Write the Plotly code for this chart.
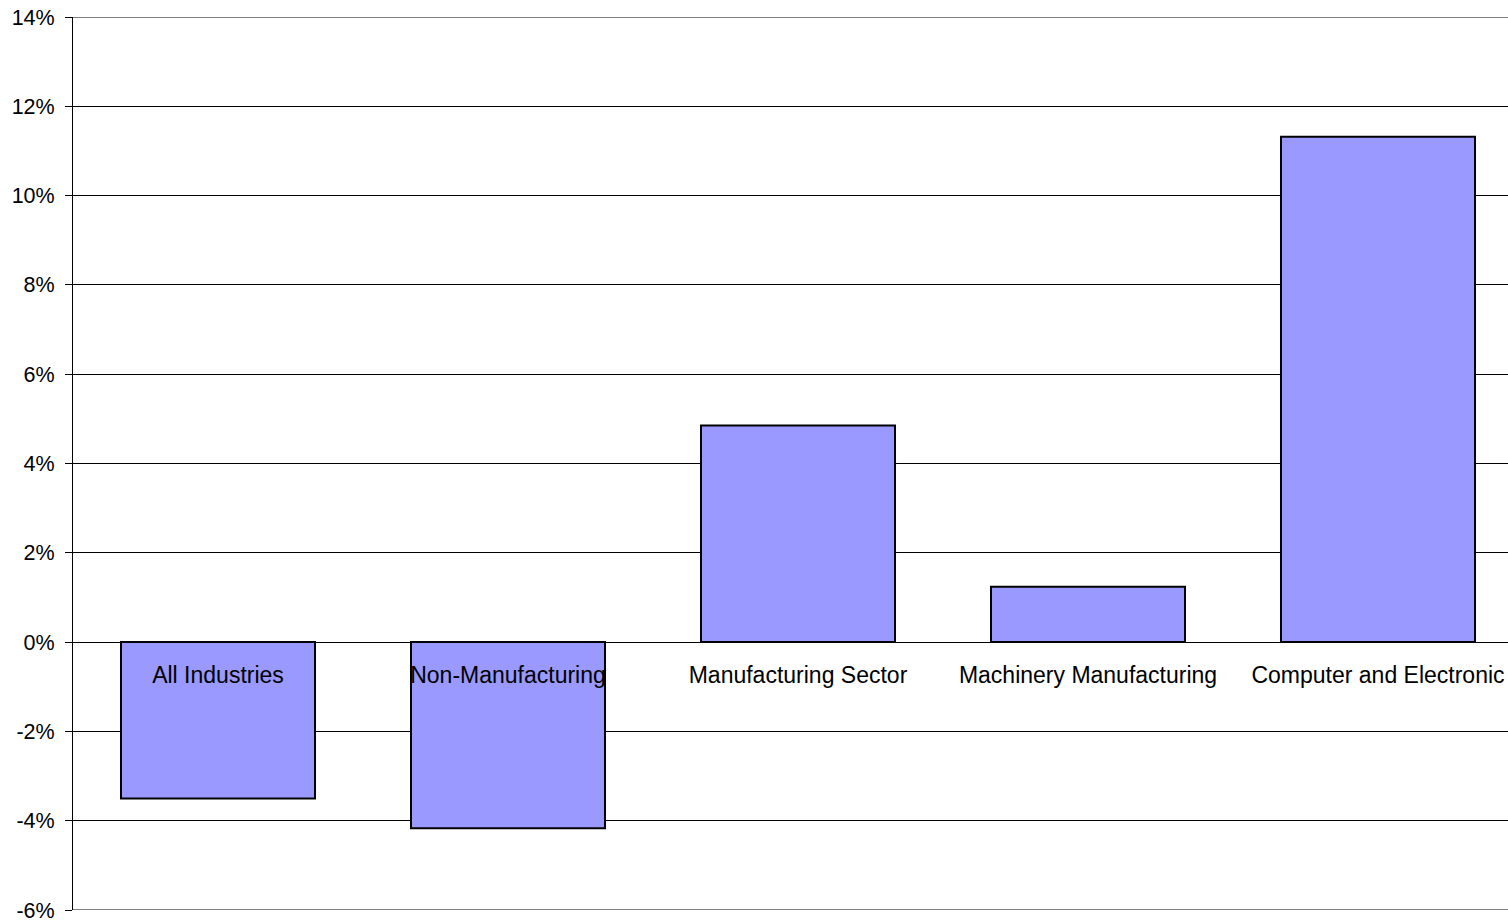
import plotly.graph_objects as go

# Change by industry group (percent)
categories = [
    "All Industries",
    "Non-Manufacturing",
    "Manufacturing Sector",
    "Machinery Manufacturing",
    "Computer and Electronic",
]
change_pct = [-3.5, -4.17, 4.85, 1.24, 11.32]

y_min, y_max = -6, 14
y_ticks = list(range(y_min, y_max + 1, 2))
y_tick_labels = [f"{v}%" for v in y_ticks]

fig = go.Figure(
    go.Bar(
        x=categories,
        y=change_pct,
        marker=dict(color="#9999FF", line=dict(color="#000000", width=2)),
        hoverinfo="x+y",
    )
)

font = "Liberation Sans, Arial, sans-serif"

# the last category slot runs slightly past the right edge of the figure
x_right = -0.5 + 1435 / 290

# gridlines at the two ends of the value range
edge_lines = [
    dict(
        type="line", xref="paper", yref="y",
        x0=0, x1=1, y0=v, y1=v,
        line=dict(color="#000000", width=1),
        layer="below",
    )
    for v in (y_min, y_max)
]

fig.update_layout(
    width=1508,
    height=921,
    margin=dict(l=73, r=0, t=17, b=11),
    paper_bgcolor="white",
    plot_bgcolor="white",
    showlegend=False,
    bargap=0.331,
    font=dict(family=font, color="#000000"),
    shapes=edge_lines,
    xaxis=dict(
        range=[-0.5, x_right],
        anchor="free",
        # category axis crosses the value axis at zero
        position=(0 - y_min) / (y_max - y_min),
        showline=True,
        linecolor="#000000",
        linewidth=1,
        showgrid=False,
        ticks="",
        ticklabelstandoff=12,
        tickfont=dict(size=23, family=font, color="#000000"),
        automargin=False,
        fixedrange=True,
    ),
    yaxis=dict(
        range=[y_min, y_max],
        tickvals=y_ticks,
        ticktext=y_tick_labels,
        showgrid=True,
        gridcolor="#000000",
        gridwidth=1,
        zeroline=False,
        showline=True,
        linecolor="#000000",
        linewidth=1,
        ticks="outside",
        ticklen=7,
        tickcolor="#000000",
        ticklabelstandoff=6,
        ticklabeloverflow="allow",
        tickfont=dict(size=21.5, family=font, color="#000000"),
        automargin=False,
        fixedrange=True,
    ),
)

fig.write_html("out.html")
